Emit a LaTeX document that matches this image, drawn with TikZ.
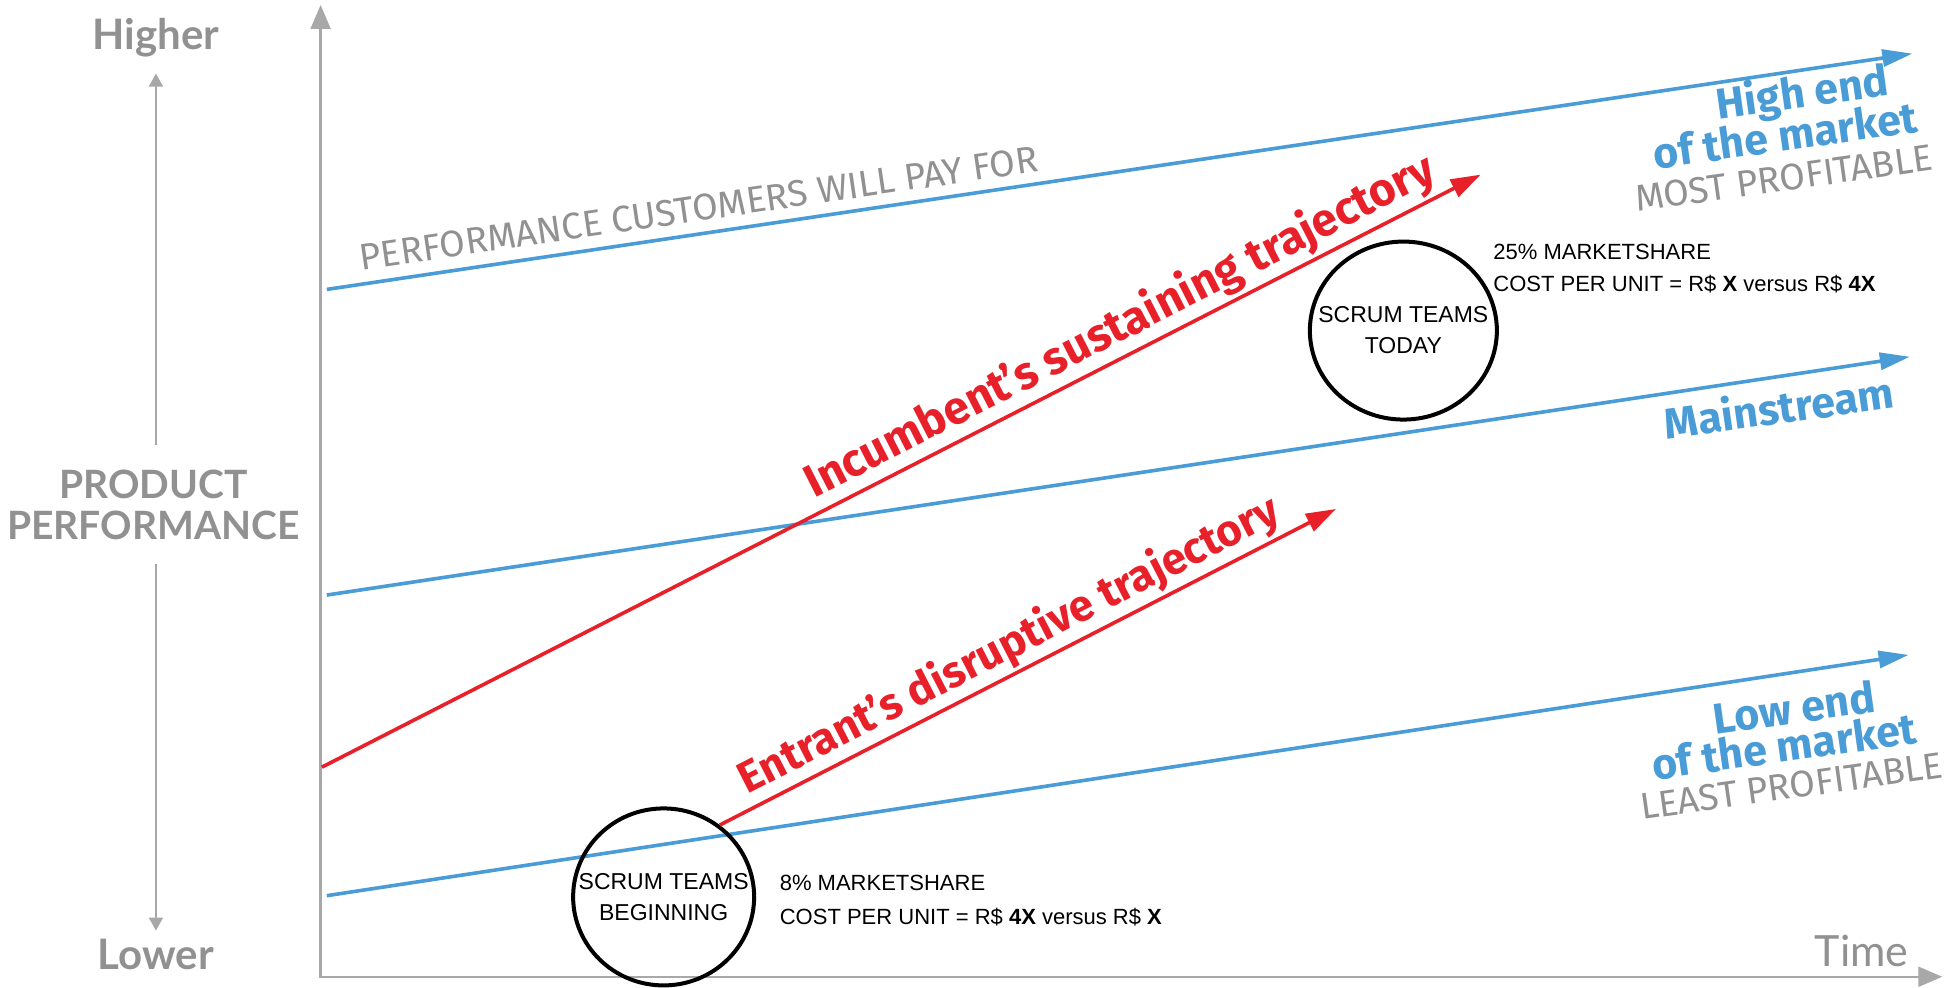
\documentclass[tikz,border=0pt]{standalone}
\usepackage{fontspec}
\setmainfont{Fira Sans}
\newfontfamily\lato{Lato}
\newfontfamily\helv{Liberation Sans}
\usetikzlibrary{arrows.meta,shapes.geometric}
\definecolor{bl}{RGB}{74,156,214}
\definecolor{rd}{RGB}{232,32,42}
\definecolor{gt}{RGB}{145,145,145}
\definecolor{ga}{RGB}{168,168,168}
\begin{document}
\begin{tikzpicture}[x=1.24744pt,y=-1.24744pt,
  axisline/.style={draw=ga, line width=2.2pt},
  smallarrow/.style={draw=ga, line width=1.8pt, -{Triangle[length=13pt,width=14pt]}},
  blueline/.style={draw=bl, line width=3.6pt, -{Triangle[length=30pt,width=17pt]}},
  redline/.style={draw=rd, line width=3.6pt, -{Triangle[length=30pt,width=19pt]}},
  axislbl/.style={text=gt, font=\lato\bfseries\fontsize{42}{46}\selectfont, inner sep=0pt},
  bluelbl/.style={text=bl, font=\bfseries\fontsize{43}{46}\selectfont, inner sep=0pt, rotate=8},
  graylbl/.style={text=gt, font=\fontsize{37}{42}\selectfont, inner sep=0pt, rotate=8},
  redlbl/.style={text=rd, font=\bfseries\fontsize{46}{50}\selectfont, inner sep=3pt, sloped, above},
  scrum/.style={ellipse, draw=black, line width=4pt, inner sep=0pt},
  scrumtext/.style={align=center, inner sep=0pt, font=\helv\fontsize{23}{31}\selectfont},
  info/.style={anchor=base west, inner sep=0pt, font=\helv\fontsize{22}{26}\selectfont}]
\useasboundingbox (0,0) rectangle (1560,792);
\fill[white] (0,0) rectangle (1560,792);

% axes
\coordinate (ytop) at (257,4);
\coordinate (orig) at (257,783);
\coordinate (xend) at (1557,783);
\draw[axisline, {Triangle[length=24pt,width=20pt]}-{Triangle[length=24pt,width=20pt]}] (ytop) -- (orig) -- (xend);

% left labels
\node[axislbl, anchor=base] (hi) at (125,40) {Higher};
\node[axislbl, anchor=base] (lo) at (125,777) {Lower};
\node[axislbl, align=center, font=\lato\bfseries\fontsize{39}{41}\selectfont] (pp) at (123,405) {PRODUCT\\PERFORMANCE};
\coordinate (ua) at (125,357);
\coordinate (ub) at (125,59);
\coordinate (la) at (125,452);
\coordinate (lb) at (125,746);
\draw[smallarrow] (ua) -- (ub);
\draw[smallarrow] (la) -- (lb);
\node[text=gt, font=\lato\fontsize{43}{46}\selectfont, anchor=base east, inner sep=0pt] (time) at (1530,775) {Time};

% blue lines
\coordinate (t0) at (262,232);
\coordinate (t1) at (1533,43);
\coordinate (m0) at (262,477);
\coordinate (m1) at (1531,286);
\coordinate (l0) at (262,718);
\coordinate (l1) at (1530,525);
\draw[blueline] (t0) -- (t1);
\draw[blueline] (m0) -- (m1);
\draw[blueline] (l0) -- (l1);

\node[graylbl, rotate=0.3] (perf) at (560,167) {PERFORMANCE CUSTOMERS WILL PAY FOR};

\node[bluelbl] (he1) at (1445,76) {High end};
\node[bluelbl] (he2) at (1431,108) {of the market};
\node[graylbl] (he3) at (1430,143) {MOST PROFITABLE};
\node[bluelbl] (ms) at (1426,326) {Mainstream};
\node[bluelbl] (le1) at (1438,567) {Low end};
\node[bluelbl] (le2) at (1430,598) {of the market};
\node[graylbl] (le3) at (1436,630) {LEAST PROFITABLE};

% circles
\node[scrum, minimum width=181pt, minimum height=177pt] (cb) at (532,719) {};
\node[scrumtext] (cbt) at (cb) {SCRUM TEAMS\\BEGINNING};
\node[scrum, minimum width=187pt, minimum height=178pt] (ct) at (1125,265) {};
\node[scrumtext] (ctt) at (ct) {SCRUM TEAMS\\TODAY};

% red trajectories
\coordinate (i0) at (258,615);
\coordinate (i1) at (1187,140);
\coordinate (e1) at (1071,408);
\draw[redline] (i0) -- (i1) node[redlbl, pos=0.70] (inc) {Incumbent’s sustaining trajectory};
\draw[redline] (cb.52) -- (e1) node[redlbl, font=\bfseries\fontsize{44}{48}\selectfont, pos=0.49] (ent) {Entrant’s disruptive trajectory};

% info texts
\node[info] (b1) at (625,714) {8\% MARKETSHARE};
\node[info] (b2) at (625,741) {COST PER UNIT = R\$ \textbf{4X} versus R\$ \textbf{X}};
\node[info] (t1a) at (1197,208) {25\% MARKETSHARE};
\node[info] (t2a) at (1197,234) {COST PER UNIT = R\$ \textbf{X} versus R\$ \textbf{4X}};
\end{tikzpicture}
\end{document}
